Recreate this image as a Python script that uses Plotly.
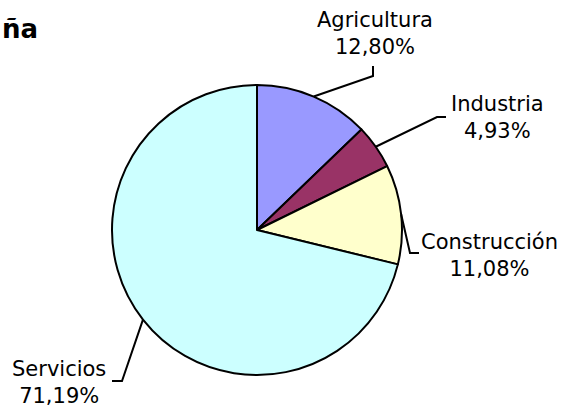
import math
import plotly.graph_objects as go

# ---- data ----
categories = ["Agricultura", "Industria", "Construcción", "Servicios"]
values = [12.80, 4.93, 11.08, 71.19]
value_labels = ["12,80%", "4,93%", "11,08%", "71,19%"]
title_text = "ña"

# ---- style / layout ----
W, H = 564, 412
colors = ["#9999FF", "#993366", "#FFFFCC", "#CCFFFF"]
CX, CY, R = 257, 230, 145  # pie centre and radius in pixels
FONT = "DejaVu Sans"

# label block centres and leader elbows/ends (pixels)
label_pos = [(375, 34), (497, 117), (489, 256), (59, 382)]
elbows = [(373, 76), (437, 117), (410, 253), (122, 381)]
ends = [(373, 66), (446, 117), (419, 253), (112, 381)]


def px(x):
    return x / W


def py(y):
    return 1 - y / H


fig = go.Figure(
    go.Pie(
        labels=categories,
        values=values,
        sort=False,
        direction="clockwise",
        rotation=0,
        marker=dict(colors=colors, line=dict(color="black", width=2)),
        textinfo="none",
        showlegend=False,
        domain=dict(x=[px(CX - R), px(CX + R)], y=[py(CY + R), py(CY - R)]),
    )
)

total = sum(values)
shapes = []
annotations = []
cum = 0.0
for i, v in enumerate(values):
    mid = (cum + v / 2) / total * 2 * math.pi
    cum += v
    sx = CX + R * math.sin(mid)
    sy = CY - R * math.cos(mid)
    ex, ey = elbows[i]
    fx, fy = ends[i]
    shapes.append(
        dict(
            type="path",
            xref="paper",
            yref="paper",
            path=f"M {px(sx)},{py(sy)} L {px(ex)},{py(ey)} L {px(fx)},{py(fy)}",
            line=dict(color="black", width=2),
        )
    )
    lx, ly = label_pos[i]
    annotations.append(
        dict(
            x=px(lx),
            y=py(ly),
            xref="paper",
            yref="paper",
            text=f"{categories[i]}<br>{value_labels[i]}",
            showarrow=False,
            xanchor="center",
            yanchor="middle",
            align="center",
            font=dict(family=FONT, size=21, color="black"),
        )
    )

annotations.append(
    dict(
        x=px(0),
        y=py(29),
        xref="paper",
        yref="paper",
        text=f"<b>{title_text}</b>",
        showarrow=False,
        xanchor="left",
        yanchor="middle",
        font=dict(family=FONT, size=26, color="black"),
    )
)

fig.update_layout(
    width=W,
    height=H,
    margin=dict(l=0, r=0, t=0, b=0),
    paper_bgcolor="white",
    plot_bgcolor="white",
    shapes=shapes,
    annotations=annotations,
    font=dict(family=FONT),
)

fig.write_html(
    "out.html",
    config={"displayModeBar": False},
    post_script="document.body.style.margin='0';document.body.style.overflow='hidden';",
)
